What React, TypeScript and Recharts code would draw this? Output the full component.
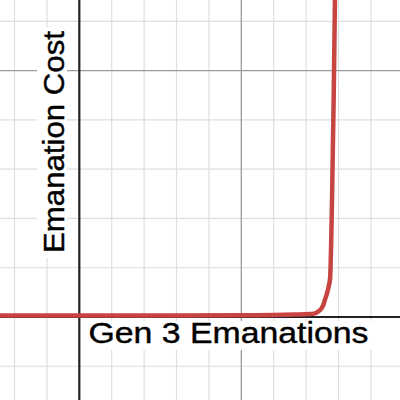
import { LineChart, Line, XAxis, YAxis, ReferenceLine } from 'recharts';

// grid values (x: emanations, y: cost units)
const minorX = [-2, -1, 1, 2, 3, 4, 6, 7, 8, 9];
const majorX = [5];
const minorY = [-1, 1, 2, 3, 4, 6];
const majorY = [5];

// curve
const genValues = [-2.5, 0, 3, 5, 6, 6.66, 7.1, 7.27, 7.37, 7.48, 7.54, 7.58, 7.64, 7.69, 7.74, 7.8, 7.85, 7.89, 7.92];
const costValues = [0.03, 0.03, 0.03, 0.035, 0.04, 0.05, 0.06, 0.075, 0.11, 0.18, 0.26, 0.35, 0.47, 0.6, 0.78, 2.38, 4.4, 6.44, 8];

const xDomain = [-2.448, 9.898];
const yDomain = [-1.685, 6.435];

const data = genValues.map((g, i) => ({ gen: g, cost: costValues[i] }));

const font = "'Liberation Sans', Arial, sans-serif";
const ink = { fill: '#000', stroke: '#000', strokeWidth: 0.4 };

// axis titles sit on white boxes over the grid, so they go in an overlay
function Titles() {
  return (
    <svg
      width={400}
      height={400}
      style={{ position: 'absolute', left: 0, top: 0, pointerEvents: 'none' }}
    >
      <rect x={84} y={321} width={290} height={29} fill="#fff" />
      <rect x={37} y={27} width={30} height={231} fill="#fff" />
      <text
        x={88.5}
        y={343}
        fontFamily={font}
        fontSize={29}
        textLength={280}
        lengthAdjust="spacingAndGlyphs"
        {...ink}
      >
        Gen 3 Emanations
      </text>
      <text
        transform="translate(63.5,253) rotate(-90)"
        x={0}
        y={0}
        fontFamily={font}
        fontSize={29.5}
        textLength={222}
        lengthAdjust="spacingAndGlyphs"
        {...ink}
      >
        Emanation Cost
      </text>
    </svg>
  );
}

export default function App() {
  return (
    <div style={{ position: 'absolute', left: 0, top: 0, width: 400, height: 400, background: '#fff' }}>
      <LineChart width={400} height={400} data={data} margin={{ top: 0, right: 0, bottom: 0, left: 0 }}>
        <XAxis dataKey="gen" type="number" domain={xDomain} allowDataOverflow hide />
        <YAxis type="number" domain={yDomain} allowDataOverflow hide />
        {minorX.map((x) => (
          <ReferenceLine key={'mx' + x} x={x} stroke="#dedede" strokeWidth={1.2} />
        ))}
        {minorY.map((y) => (
          <ReferenceLine key={'my' + y} y={y} stroke="#dedede" strokeWidth={1.2} />
        ))}
        {majorX.map((x) => (
          <ReferenceLine key={'Mx' + x} x={x} stroke="#9a9a9a" strokeWidth={1.3} />
        ))}
        {majorY.map((y) => (
          <ReferenceLine key={'My' + y} y={y} stroke="#9a9a9a" strokeWidth={1.3} />
        ))}
        <ReferenceLine x={0} stroke="#222" strokeWidth={2.2} />
        <ReferenceLine y={0} stroke="#222" strokeWidth={2.2} />
        <Line
          type="monotone"
          dataKey="cost"
          stroke="#c74440"
          strokeWidth={4.5}
          dot={false}
          activeDot={false}
          isAnimationActive={false}
        />
      </LineChart>
      <Titles />
    </div>
  );
}
